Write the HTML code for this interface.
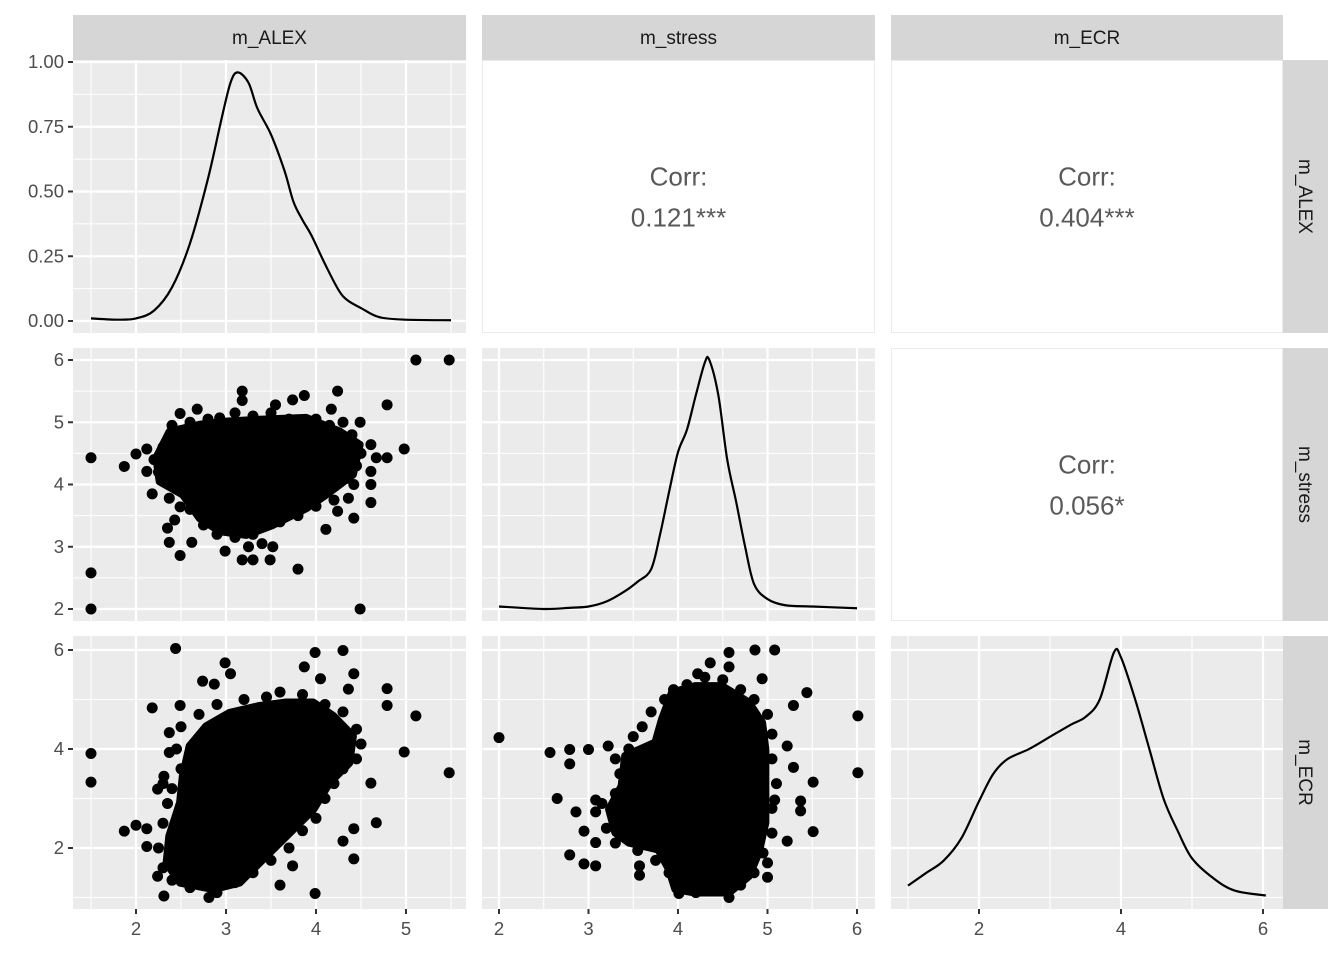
<!DOCTYPE html>
<html><head><meta charset="utf-8"><style>
body{margin:0;background:#fff}
svg text{font-family:"Liberation Sans",sans-serif}
</style></head><body>
<svg id="c" width="1344" height="960" xmlns="http://www.w3.org/2000/svg"></svg>
<script>
// ---- data ----
const varNames = ["m_ALEX","m_stress","m_ECR"];
const corrLabels = ["0.121***","0.404***","0.056*"];
const alexTicks = [2,3,4,5];
const stressTicks = [2,3,4,5,6];
const ecrTicks = [2,4,6];
const densTicks = [0,0.25,0.5,0.75,1];
const densTickLabels = ["0.00","0.25","0.50","0.75","1.00"];
// density of m_ALEX
const alexDensX = [1.5,1.8,2.0,2.2,2.4,2.6,2.8,2.95,3.05,3.13,3.25,3.35,3.5,3.65,3.75,3.85,3.95,4.1,4.25,4.35,4.5,4.7,5.0,5.5];
const alexDensY = [0.01,0.005,0.01,0.04,0.13,0.3,0.55,0.78,0.92,0.96,0.92,0.82,0.72,0.58,0.46,0.39,0.33,0.22,0.12,0.08,0.05,0.015,0.005,0.003];
// density of m_stress (relative height)
const stressDensX = [2.0,2.5,2.8,3.0,3.2,3.4,3.55,3.7,3.8,3.9,4.0,4.1,4.2,4.3,4.35,4.45,4.55,4.65,4.75,4.85,5.0,5.2,5.5,6.0];
const stressDensY = [0.01,0.0,0.005,0.01,0.03,0.07,0.11,0.16,0.3,0.47,0.63,0.72,0.86,0.99,1.0,0.86,0.6,0.43,0.25,0.1,0.04,0.015,0.01,0.003];
// density of m_ECR (relative height)
const ecrDensX = [1.0,1.25,1.5,1.75,2.0,2.2,2.4,2.7,3.0,3.3,3.5,3.7,3.9,4.0,4.2,4.4,4.6,4.8,5.0,5.3,5.6,6.04];
const ecrDensY = [0.05,0.1,0.15,0.24,0.39,0.5,0.56,0.6,0.65,0.7,0.73,0.8,0.99,0.97,0.8,0.6,0.4,0.27,0.16,0.08,0.03,0.01];
// scatter m_ALEX vs m_stress: dense core outline + individual points
const coreAS_x = [2.226,2.374,2.707,3.004,3.374,3.893,4.263,4.485,4.41,4.115,3.893,3.52,3.226,2.93,2.707,2.52,2.263];
const coreAS_y = [4.43,4.85,4.96,5.01,5.04,5.07,4.85,4.64,4.16,3.84,3.62,3.35,3.19,3.25,3.46,3.84,4.05];
const ptsAS_x = [1.5,1.5,1.5,5.11,5.48,4.49,4.79,4.98,4.24,3.18,3.18,3.87,3.74,3.55,2.49,2.68,2.0,1.87,2.12,2.12,2.18,2.37,2.49,2.43,2.37,2.49,2.62,2.99,3.18,3.30,3.49,3.80,3.52,4.11,4.42,4.61,4.61,4.61,4.79,4.67,4.61,4.49,4.24,4.36,4.42,4.17,2.93,
  2.3,2.4,2.6,2.8,3.1,3.3,3.5,3.7,4.0,4.15,4.3,4.4,4.5,4.45,4.35,4.2,4.0,3.8,3.6,3.3,3.1,2.9,2.75,2.6,2.45,2.25,2.2,2.35,3.4,3.25];
const ptsAS_y = [4.43,2.58,2.0,6.0,6.0,2.0,5.28,4.57,5.50,5.50,5.35,5.43,5.36,5.28,5.14,5.21,4.49,4.29,4.57,4.21,3.85,3.78,3.64,3.43,3.07,2.86,3.07,2.93,2.79,2.79,2.79,2.64,3.0,3.28,3.46,3.71,4.0,4.21,4.43,4.43,4.64,5.0,3.57,3.78,4.0,5.21,5.07,
  4.6,4.95,5.0,5.05,5.15,5.1,5.15,5.05,5.05,4.95,5.0,4.8,4.5,4.3,4.1,3.75,3.65,3.5,3.4,3.2,3.15,3.2,3.35,3.6,3.95,4.2,4.4,3.3,3.05,3.0];
// scatter m_ALEX vs m_ECR
const coreAE_x = [2.596,2.781,3.04,3.374,3.67,3.967,4.19,4.41,4.37,4.15,3.97,3.67,3.37,3.15,2.86,2.49,2.34,2.37,2.49,2.52];
const coreAE_y = [4.06,4.46,4.73,4.87,4.94,4.94,4.67,4.26,3.72,3.32,2.78,2.24,1.70,1.30,1.17,1.30,1.70,2.24,2.92,3.45];
const ptsAE_x = [1.5,1.5,2.44,5.48,4.98,5.11,4.79,4.79,4.42,4.30,3.99,3.87,4.05,4.36,2.99,3.05,2.74,2.87,2.18,2.49,2.37,2.37,2.31,2.24,1.87,2.0,2.12,2.12,2.24,2.31,2.81,3.99,4.42,4.42,4.67,4.61,4.30,3.60,3.74,
  2.5,2.7,2.9,3.2,3.45,3.6,3.85,4.1,4.3,4.45,4.5,4.45,4.3,4.2,4.1,4.0,3.85,3.7,3.5,3.3,3.1,2.9,2.6,2.4,2.3,2.25,2.3,2.35,2.4,2.5,2.3,2.45];
const ptsAE_y = [3.91,3.33,6.03,3.52,3.94,4.67,5.22,4.88,5.52,5.99,5.95,5.66,5.42,5.21,5.74,5.52,5.37,5.31,4.83,4.88,4.33,3.93,3.45,3.19,2.34,2.46,2.39,2.03,1.43,1.03,1.0,1.08,1.78,2.39,2.51,3.31,2.14,1.25,1.64,
  4.45,4.7,4.9,5.0,5.05,5.15,5.1,4.9,4.75,4.4,4.1,3.8,3.6,3.3,3.0,2.6,2.35,2.0,1.75,1.5,1.3,1.1,1.2,1.35,1.6,2.0,2.5,2.9,3.2,3.6,3.3,4.0];
// scatter m_stress vs m_ECR
const coreSE_x = [3.747,3.821,3.933,4.193,4.49,4.79,4.94,4.976,4.976,4.976,4.90,4.79,4.57,4.19,3.97,3.90,3.78,3.45,3.30,3.23,3.37,3.41];
const coreSE_y = [4.13,4.60,5.14,5.27,5.27,4.94,4.53,3.99,3.25,2.51,1.90,1.43,1.10,1.10,1.17,1.57,1.97,2.11,2.31,2.78,3.25,3.86];
const ptsSE_x = [2.0,2.57,2.79,2.79,3.0,3.22,2.65,2.86,3.08,3.08,2.95,3.08,2.79,2.95,3.08,3.57,3.57,6.01,6.01,5.51,5.51,5.37,5.37,5.29,5.08,5.22,5.29,5.44,5.08,4.86,4.57,4.57,4.36,4.22,4.94,5.0,5.0,5.22,4.57,4.01,
  3.5,3.6,3.7,3.85,3.95,4.1,4.3,4.5,4.7,4.85,5.0,5.05,5.05,5.1,5.05,5.05,4.95,4.85,4.7,4.45,4.2,4.0,3.9,3.75,3.55,3.3,3.2,3.15,3.3,3.35,3.3,3.45];
const ptsSE_y = [4.23,3.93,3.99,3.70,3.99,4.06,3.0,2.73,2.97,2.73,2.34,2.11,1.86,1.68,1.64,1.64,1.45,4.67,3.52,3.33,2.33,2.95,2.75,3.63,2.97,4.06,4.88,5.14,6.0,6.0,5.95,5.66,5.74,5.52,5.42,1.70,1.41,2.14,1.0,1.08,
  4.25,4.45,4.75,5.0,5.2,5.3,5.45,5.4,5.2,5.0,4.7,4.3,3.8,3.3,2.8,2.3,1.9,1.5,1.25,1.15,1.1,1.2,1.5,1.75,1.95,2.1,2.4,2.9,3.1,3.5,3.8,4.0];

// ---- layout ----
const NS="http://www.w3.org/2000/svg";
const svg=document.getElementById('c');
function el(tag,attrs,parent){const e=document.createElementNS(NS,tag);for(const k in attrs)e.setAttribute(k,attrs[k]);(parent||svg).appendChild(e);return e;}
const colL=[73,482,891], colR=[466,875,1283];
const rowT=[60,348,636], rowB=[333,621,909];
function lin(d0,d1,r0,r1){return v=>r0+(v-d0)*(r1-r0)/(d1-d0);}
const xS=[lin(2,5,136,406), lin(2,6,499,857), lin(2,6,979,1263)];
const yDens=lin(0,1,321,62);
const yS=[yDens, lin(2,6,609,360), lin(2,6,848,650)];
const yRel=[null, lin(0,1,609,360), lin(0,1,898,650)];
const xMaj=[alexTicks,stressTicks,ecrTicks];
const xMin=[[1.5,2.5,3.5,4.5,5.5],[2.5,3.5,4.5,5.5],[1,3,5]];
const yMaj=[densTicks,stressTicks,ecrTicks];
const yMin=[[0.125,0.375,0.625,0.875],[2.5,3.5,4.5,5.5],[1,3,5]];

function smoothPath(xs,ys){
  let d=`M${xs[0]},${ys[0]}`;
  for(let i=0;i<xs.length-1;i++){
    const x0=xs[Math.max(0,i-1)],y0=ys[Math.max(0,i-1)],x1=xs[i],y1=ys[i],x2=xs[i+1],y2=ys[i+1],x3=xs[Math.min(xs.length-1,i+2)],y3=ys[Math.min(xs.length-1,i+2)];
    d+=` C${x1+(x2-x0)/6},${y1+(y2-y0)/6} ${x2-(x3-x1)/6},${y2-(y3-y1)/6} ${x2},${y2}`;
  }
  return d;
}

for(let r=0;r<3;r++)for(let c=0;c<3;c++){
  const L=colL[c],R=colR[c],T=rowT[r],B=rowB[r];
  const g=el('g',{});
  
  
  if(c>r){
    el('rect',{x:L+0.5,y:T+0.5,width:R-L-1,height:B-T-1,fill:'#fff',stroke:'#EBEBEB','stroke-width':1},g);
    const idx = (r===0&&c===1)?0:(r===0&&c===2)?1:2;
    const cx=(L+R)/2, cy=(T+B)/2;
    const t1=el('text',{x:cx,y:cy-11,'text-anchor':'middle','font-size':26,fill:'#595959'},g);t1.textContent='Corr:';
    
    
    const t2=el('text',{x:cx,y:cy+30,'text-anchor':'middle','font-size':26,fill:'#595959'},g);t2.textContent=corrLabels[idx];
    
    
    continue;
  }
  el('rect',{x:L,y:T,width:R-L,height:B-T,fill:'#EBEBEB'},g);
  xMin[c].forEach(v=>{const x=xS[c](v);el('line',{x1:x,x2:x,y1:T,y2:B,stroke:'#fff','stroke-width':1.1},g);});
  yMin[r].forEach(v=>{const y=yS[r](v);if(y>T&&y<B)el('line',{x1:L,x2:R,y1:y,y2:y,stroke:'#fff','stroke-width':1.1},g);});
  xMaj[c].forEach(v=>{const x=xS[c](v);el('line',{x1:x,x2:x,y1:T,y2:B,stroke:'#fff','stroke-width':2.2},g);});
  yMaj[r].forEach(v=>{const y=yS[r](v);if(y>=T&&y<=B)el('line',{x1:L,x2:R,y1:y,y2:y,stroke:'#fff','stroke-width':2.2},g);});
  if(r===c){
    let xs,ys,ysc;
    if(r===0){xs=alexDensX;ys=alexDensY;ysc=yDens;}
    else if(r===1){xs=stressDensX;ys=stressDensY;ysc=yRel[1];}
    else {xs=ecrDensX;ys=ecrDensY;ysc=yRel[2];}
    const p=el('path',{d:smoothPath(xs.map(xS[c]),ys.map(ysc)),fill:'none',stroke:'#000','stroke-width':2.2},g);
    
    
  } else {
    let cx,cy,px,py;
    if(r===1&&c===0){cx=coreAS_x;cy=coreAS_y;px=ptsAS_x;py=ptsAS_y;}
    else if(r===2&&c===0){cx=coreAE_x;cy=coreAE_y;px=ptsAE_x;py=ptsAE_y;}
    else {cx=coreSE_x;cy=coreSE_y;px=ptsSE_x;py=ptsSE_y;}
    const pts=cx.map((v,i)=>xS[c](v)+','+yS[r](cy[i])).join(' ');
    const core=el('polygon',{points:pts,fill:'#000',stroke:'#000','stroke-width':8,'stroke-linejoin':'round'},g);
    
    
    px.forEach((v,i)=>{
      const d=el('circle',{cx:xS[c](v),cy:yS[r](py[i]),r:5.5,fill:'#000'},g);
      
      
    });
  }
}
// strips
for(let c=0;c<3;c++){
  const s=el('rect',{x:colL[c],y:15,width:colR[c]-colL[c],height:45,fill:'#D6D6D6'});
  
  
  const t=el('text',{x:(colL[c]+colR[c])/2,y:44,'text-anchor':'middle','font-size':19,fill:'#1A1A1A'});
  t.textContent=varNames[c];
  
  
}
for(let r=0;r<3;r++){
  const s=el('rect',{x:1283,y:rowT[r],width:45,height:rowB[r]-rowT[r],fill:'#D6D6D6'});
  
  
  const cy=(rowT[r]+rowB[r])/2;
  const t=el('text',{x:1299,y:cy,'text-anchor':'middle','font-size':19,fill:'#1A1A1A',transform:`rotate(90 1299 ${cy})`});
  t.textContent=varNames[r];
  
  
}
// axes
for(let r=0;r<3;r++){
  const ys=yS[r];
  yMaj[r].forEach((v,i)=>{
    const y=ys(v); if(y<rowT[r]-1||y>rowB[r]+1)return;
    el('line',{x1:68,x2:73,y1:y,y2:y,stroke:'#333','stroke-width':2});
    const t=el('text',{x:64,y:y+6,'text-anchor':'end','font-size':18.5,fill:'#4D4D4D'});
    t.textContent = r===0?densTickLabels[i]:String(v);
    
    
  });
}
for(let c=0;c<3;c++){
  xMaj[c].forEach(v=>{
    const x=xS[c](v);
    el('line',{x1:x,x2:x,y1:909,y2:914,stroke:'#333','stroke-width':2});
    const t=el('text',{x:x,y:935,'text-anchor':'middle','font-size':18.5,fill:'#4D4D4D'});
    t.textContent=String(v);
    
    
  });
}
</script>
</body></html>
